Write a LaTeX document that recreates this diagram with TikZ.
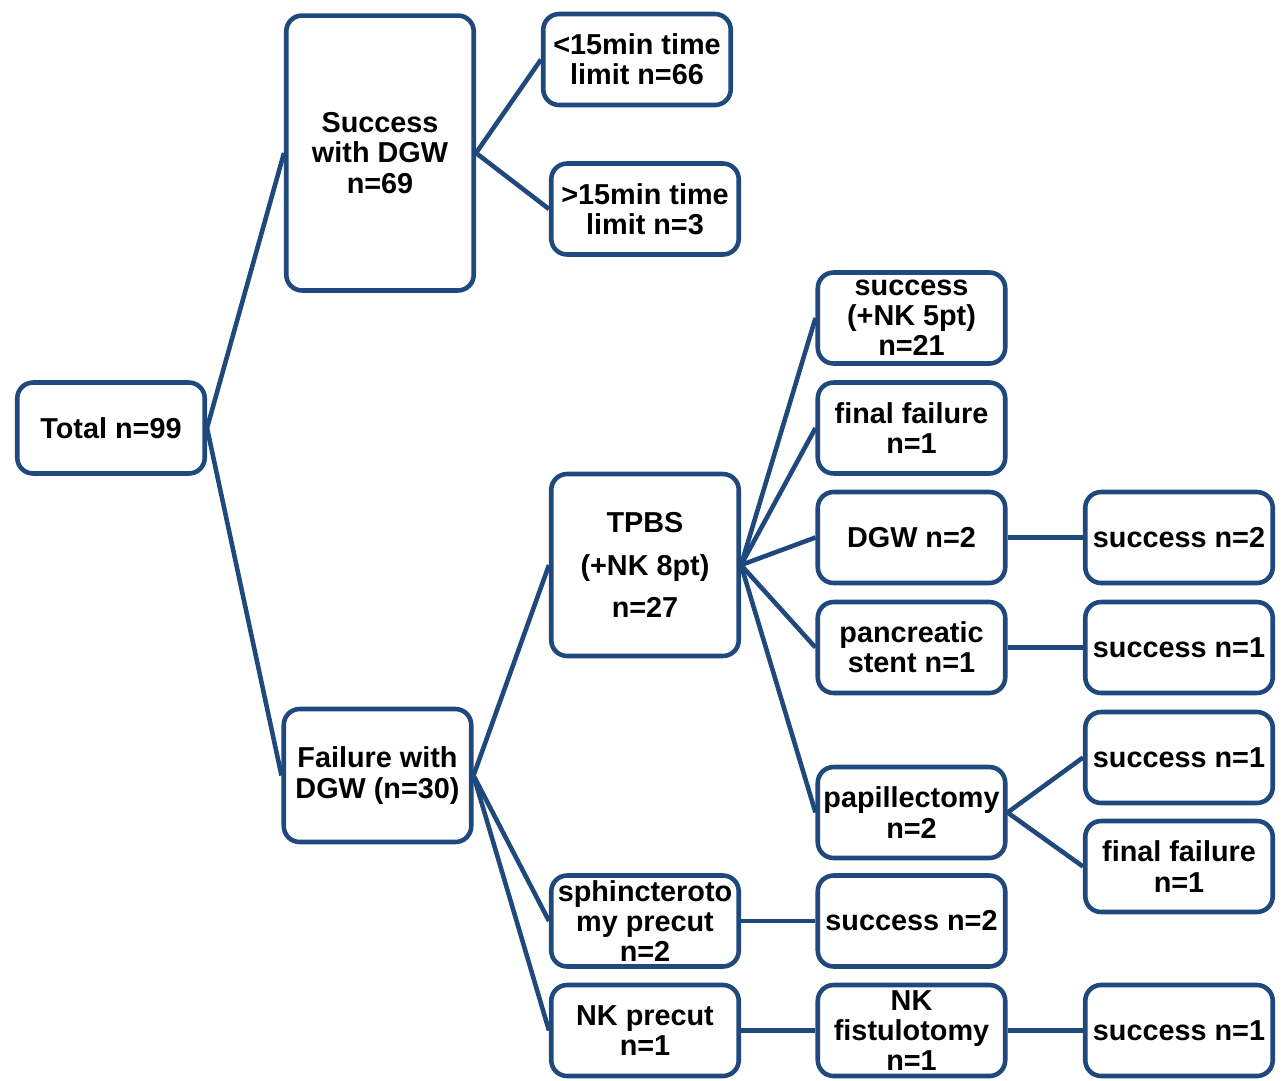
\documentclass[tikz,border=0pt]{standalone}
\usepackage{fontspec}
\setmainfont{Liberation Sans}
\usepackage{xcolor}
\usepackage{tikz}
\usetikzlibrary{positioning}
\definecolor{navyline}{RGB}{31, 73, 125}

\begin{document}
\begin{tikzpicture}[
    x=0.02cm, y=-0.02cm,
    box/.style={rectangle, rounded corners=9pt, fill=white, draw=navyline, line width=2.6pt, minimum width=3.75cm, minimum height=1.82cm, inner sep=1pt, align=center, font=\fontsize{16.4}{17.2}\selectfont\bfseries},
    line/.style={navyline, line width=2.6pt}
]
    \useasboundingbox (0,0) rectangle (1288,1080);

    % Root
    \node[box] (total) at (111, 428) {Total n=99};

    % First split
    \node[box, minimum height=5.5cm] (succ) at (380, 153) {Success\\with DGW\\n=69};
    \node[box, minimum height=2.66cm] (fail) at (377.5, 775.5) {Failure with\\DGW (n=30)};

    % Time limit
    \node[box] (under) at (637, 59.5) {<15min time\\limit n=66};
    \node[box] (over) at (645, 209) {>15min time\\limit n=3};

    % Rescue techniques
    \node[box, minimum height=3.64cm] (tpbs) at (645, 565) {TPBS\\[7pt](+NK 8pt)\\[7pt]n=27};
    \node[box] (sphinc) at (645, 921) {sphincteroto\\my precut\\n=2};
    \node[box] (nkpre) at (645, 1030.5) {NK precut\\n=1};

    % After TPBS
    \node[box] (tsucc) at (911.5, 318) {success\\(+NK 5pt)\\n=21};
    \node[box] (tfail) at (911.5, 428) {final failure\\n=1};
    \node[box] (tdgw) at (911.5, 537.5) {DGW n=2};
    \node[box] (tpanc) at (911.5, 647.5) {pancreatic\\stent n=1};
    \node[box] (tpap) at (911.5, 812.5) {papillectomy\\n=2};
    \node[box] (ssucc) at (911.5, 921) {success n=2};
    \node[box] (nkfis) at (911.5, 1030.5) {NK\\fistulotomy\\n=1};

    % Outcomes
    \node[box] (dsucc) at (1179, 537.5) {success n=2};
    \node[box] (psucc) at (1179, 647.5) {success n=1};
    \node[box] (apsucc) at (1179, 757.5) {success n=1};
    \node[box] (apfail) at (1179, 866.5) {final failure\\n=1};
    \node[box] (fsucc) at (1179, 1030.5) {success n=1};

    % Lines
    \draw[line] (total.east) -- (succ.west);
    \draw[line] (total.east) -- (fail.west);
    \draw[line] (succ.east) -- (under.west);
    \draw[line] (succ.east) -- (over.west);
    \draw[line] (fail.east) -- (tpbs.west);
    \draw[line] (fail.east) -- (sphinc.west);
    \draw[line] (fail.east) -- (nkpre.west);
    \foreach \t in {tsucc, tfail, tdgw, tpanc, tpap}
        \draw[line] (tpbs.east) -- (\t.west);
    \draw[line] (tdgw) -- (dsucc);
    \draw[line] (tpanc) -- (psucc);
    \draw[line] (tpap.east) -- (apsucc.west);
    \draw[line] (tpap.east) -- (apfail.west);
    \draw[line] (sphinc) -- (ssucc);
    \draw[line] (nkpre) -- (nkfis);
    \draw[line] (nkfis) -- (fsucc);
\end{tikzpicture}
\end{document}
